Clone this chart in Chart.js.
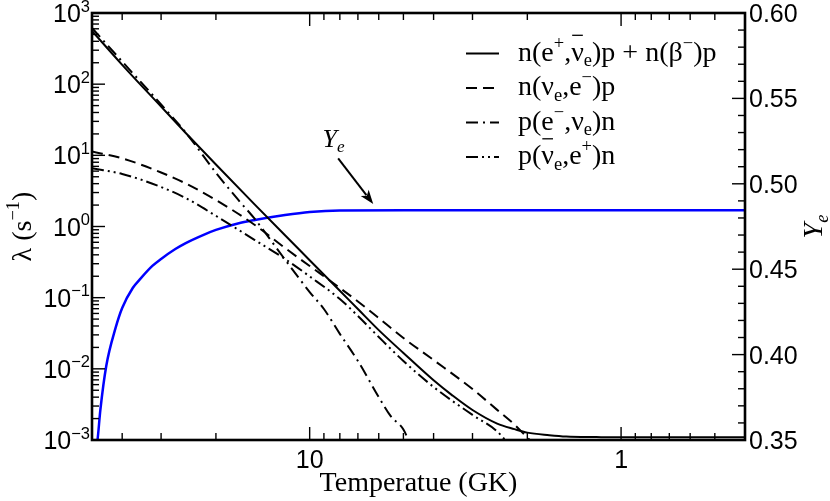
<!DOCTYPE html>
<html>
<head>
<meta charset="utf-8">
<script src="https://cdn.jsdelivr.net/npm/chart.js@4/dist/chart.umd.min.js"></script>
<style>
html,body{margin:0;padding:0;background:#fff;}
#wrap{width:830px;height:501px;position:relative;}
canvas{display:block;}
</style>
</head>
<body>
<div id="wrap"><canvas id="c" width="830" height="501"></canvas></div>
<script>
// ---------- data ----------
// n(e+, anti-nu_e)p + n(beta-)p  (solid)
const solidT    = [50, 40, 30, 25, 20, 15, 12, 10, 8, 7, 6, 5, 4, 3.5, 3, 2.5, 2.2, 2, 1.7, 1.5, 1.2, 1, 0.7, 0.4];
const solidRate = [560, 187, 48.4, 20.6, 7.43, 2.03, 0.752, 0.336, 0.125, 0.0693, 0.035, 0.0167, 0.0069, 0.00431, 0.00264, 0.0017, 0.00142, 0.00127, 0.00117, 0.00112, 0.0011, 0.00109, 0.00109, 0.00109];

// n(nu_e, e-)p  (dashed)
const dashT    = [50, 40, 30, 25, 20, 15, 12, 10, 8, 7, 6, 5, 4, 3, 2.5, 2.2, 2, 1.8];
const dashRate = [11.3, 9.08, 5.74, 4.02, 2.36, 1.05, 0.499, 0.279, 0.137, 0.0884, 0.0518, 0.0271, 0.0133, 0.0052, 0.00265, 0.00165, 0.00108, 0.0007];

// p(e-, nu_e)n  (dash-dot)
const ecT    = [50, 40, 30, 25, 20, 17, 15, 12, 10, 9, 8, 7, 6, 5.5, 5, 4.6];
const ecRate = [615, 208, 51.8, 20.9, 5.7, 2.4, 1.275, 0.343, 0.12, 0.0693, 0.031, 0.0129, 0.004, 0.00218, 0.0014, 0.0006];

// p(anti-nu_e, e+)n  (dash-dot-dot)
const anuT    = [50, 40, 30, 25, 20, 15, 12, 10, 8, 7, 6, 5, 4, 3, 2.5, 2.2];
const anuRate = [6.57, 5.47, 3.59, 2.51, 1.41, 0.645, 0.35, 0.199, 0.0957, 0.0553, 0.028, 0.0129, 0.00556, 0.00225, 0.00132, 0.0007];

// Ye (blue, right axis)
const yeT   = [50, 48, 47, 45, 42, 40, 37, 35, 32, 30, 27, 25, 22, 20, 17, 15, 12, 10, 8, 5, 1, 0.4];
const yeVal = [0.33, 0.35, 0.3676, 0.3933, 0.4156, 0.4273, 0.439, 0.4443, 0.4519, 0.456, 0.4618, 0.4653, 0.47, 0.473, 0.4768, 0.4788, 0.4817, 0.4835, 0.4844, 0.4845, 0.4845, 0.4845];

// ---------- axes / labels ----------
const tempMajorTicks  = [10, 1];
const tempTickLabels  = ['10', '1'];
const lambdaExponents = [-3, -2, -1, 0, 1, 2, 3];
const yeMajorTicks    = [0.35, 0.40, 0.45, 0.50, 0.55, 0.60];
const yeTickLabels    = ['0.35', '0.40', '0.45', '0.50', '0.55', '0.60'];
const xTitle = 'Temperatue (GK)';

const seriesLabels = [
  [{t:'n(e'},{t:'+',s:'sup'},{t:','},{t:'ν',bar:true},{t:'e',s:'sub'},{t:')p + n(β'},{t:'−',s:'sup'},{t:')p'}],
  [{t:'n(ν'},{t:'e',s:'sub'},{t:',e'},{t:'−',s:'sup'},{t:')p'}],
  [{t:'p(e'},{t:'−',s:'sup'},{t:',ν'},{t:'e',s:'sub'},{t:')n'}],
  [{t:'p('},{t:'ν',bar:true},{t:'e',s:'sub'},{t:',e'},{t:'+',s:'sup'},{t:')n'}]
];
const dashes = [[], [11, 6], [12, 5, 2, 5], [12, 4, 2, 4, 2, 4]];

// annotation (data coordinates: temperature, Ye)
const yeNoteText  = {T: 9.1, ye: 0.5217};
const yeArrowFrom = {T: 8.1, ye: 0.5149};
const yeArrowTo   = {T: 6.25, ye: 0.4882};

const SANS  = '"Liberation Sans", Arial, sans-serif';
const SERIF = '"Liberation Serif", "Times New Roman", serif';

function pts(ts, vs){ return ts.map((t,i)=>({x:t, y:vs[i]})); }

function partFont(p, size, family, style){
  const fs = (p.s ? size*0.66 : size);
  return `${style||''} ${fs}px ${family}`;
}
function richWidth(ctx, parts, size, family, style){
  let w = 0;
  for (const p of parts){ ctx.font = partFont(p,size,family,style); w += ctx.measureText(p.t).width; }
  return w;
}
function drawRich(ctx, parts, x, y, size, family, style){
  let cx = x;
  ctx.textAlign = 'left';
  ctx.textBaseline = 'alphabetic';
  for (const p of parts){
    ctx.font = partFont(p,size,family,style);
    let dy = 0;
    if (p.s === 'sup') dy = -size*0.42;
    if (p.s === 'sub') dy = size*0.2;
    ctx.fillText(p.t, cx, y+dy);
    const w = ctx.measureText(p.t).width;
    if (p.bar){
      ctx.save(); ctx.lineWidth = 1.3; ctx.beginPath();
      ctx.moveTo(cx+1, y - size*0.9); ctx.lineTo(cx+w-1, y - size*0.9); ctx.stroke(); ctx.restore();
    }
    cx += w;
  }
  return cx - x;
}

const decor = {
  id: 'decor',
  afterDraw(chart){
    const {ctx, chartArea:a} = chart;
    const xs = chart.scales.x, ys = chart.scales.y, ye = chart.scales.ye;
    ctx.save();
    ctx.strokeStyle = '#000'; ctx.fillStyle = '#000';
    // frame
    ctx.lineWidth = 2.6;
    ctx.strokeRect(a.left, a.top, a.right - a.left, a.bottom - a.top);
    ctx.lineWidth = 1.4;
    const seg = (x1,y1,x2,y2)=>{ ctx.beginPath(); ctx.moveTo(x1,y1); ctx.lineTo(x2,y2); ctx.stroke(); };
    const MAJ = 13, MIN = 7;
    // x ticks (top & bottom)
    for (let e = -1; e <= 1; e++){
      for (let m = 1; m <= 9; m++){
        const v = m * Math.pow(10, e);
        if (v < 0.4 - 1e-9 || v > 50 + 1e-9) continue;
        const px = xs.getPixelForValue(v);
        if (px <= a.left + 1 || px >= a.right - 1) continue;
        const len = (m === 1) ? MAJ : MIN;
        seg(px, a.bottom, px, a.bottom - len);
        seg(px, a.top, px, a.top + len);
      }
    }
    // left y ticks
    for (let e = -3; e <= 3; e++){
      for (let m = 1; m <= 9; m++){
        const v = m * Math.pow(10, e);
        if (v > 1000 + 1e-9) continue;
        const py = ys.getPixelForValue(v);
        const len = (m === 1) ? MAJ : MIN;
        if (py < a.top + 1 || py > a.bottom - 1) continue;
        seg(a.left, py, a.left + len, py);
      }
    }
    // right Ye ticks
    for (let k = 36; k < 60; k++){
      const v = k / 100;
      const py = ye.getPixelForValue(v);
      const len = (k % 5 === 0) ? MAJ : MIN;
      seg(a.right, py, a.right - len, py);
    }

    // tick labels
    ctx.textBaseline = 'alphabetic';
    // bottom
    ctx.font = `25px ${SANS}`; ctx.textAlign = 'center';
    tempMajorTicks.forEach((v,i)=>{ ctx.fillText(tempTickLabels[i], xs.getPixelForValue(v), a.bottom + 28); });
    // left  10^n
    lambdaExponents.forEach(e=>{
      const py = ys.getPixelForValue(Math.pow(10, e));
      const parts = [{t:'10'},{t:(e<0?'−':'')+Math.abs(e), s:'sup'}];
      const w = richWidth(ctx, parts, 25, SANS);
      drawRich(ctx, parts, a.left - 2 - w, py + 9, 25, SANS);
    });
    // right
    ctx.font = `25px ${SANS}`; ctx.textAlign = 'left';
    yeMajorTicks.forEach((v,i)=>{ ctx.fillText(yeTickLabels[i], a.right + 4, ye.getPixelForValue(v) + 9); });

    // axis titles
    ctx.font = `28px ${SERIF}`; ctx.textAlign = 'center';
    ctx.fillText(xTitle, (a.left + a.right)/2, a.bottom + 51);
    // left title
    ctx.save();
    ctx.translate(31, (a.top + a.bottom)/2);
    ctx.rotate(-Math.PI/2);
    const lt = [{t:'λ (s'},{t:'−1',s:'sup'},{t:')'}];
    const lw = richWidth(ctx, lt, 28, SERIF);
    drawRich(ctx, lt, -lw/2, 0, 28, SERIF);
    ctx.restore();
    // right title
    ctx.save();
    ctx.translate(822, (a.top + a.bottom)/2);
    ctx.rotate(-Math.PI/2);
    const rt = [{t:'Y'},{t:'e',s:'sub'}];
    const rw = richWidth(ctx, rt, 28, SERIF, 'italic');
    drawRich(ctx, rt, -rw/2, 0, 28, SERIF, 'italic');
    ctx.restore();

    // legend
    const rowY = [53.5, 88, 122.5, 157];
    seriesLabels.forEach((parts, i)=>{
      ctx.save();
      ctx.lineWidth = 2; ctx.setLineDash(dashes[i]);
      seg(466, rowY[i], 499, rowY[i]);
      ctx.restore();
      drawRich(ctx, parts, 518, rowY[i] + 7, 28, SERIF);
    });

    // Ye annotation
    const tx = xs.getPixelForValue(yeNoteText.T), ty = ye.getPixelForValue(yeNoteText.ye);
    drawRich(ctx, [{t:'Y'},{t:'e',s:'sub'}], tx, ty, 26, SERIF, 'italic');
    const x1 = xs.getPixelForValue(yeArrowFrom.T), y1 = ye.getPixelForValue(yeArrowFrom.ye);
    const x2 = xs.getPixelForValue(yeArrowTo.T),   y2 = ye.getPixelForValue(yeArrowTo.ye);
    const ang = Math.atan2(y2 - y1, x2 - x1);
    const hl = 14, hw = 5;
    ctx.lineWidth = 2;
    seg(x1, y1, x2 - Math.cos(ang)*hl*0.8, y2 - Math.sin(ang)*hl*0.8);
    ctx.beginPath();
    ctx.moveTo(x2, y2);
    ctx.lineTo(x2 - Math.cos(ang)*hl + Math.sin(ang)*hw, y2 - Math.sin(ang)*hl - Math.cos(ang)*hw);
    ctx.lineTo(x2 - Math.cos(ang)*hl*0.75, y2 - Math.sin(ang)*hl*0.75);
    ctx.lineTo(x2 - Math.cos(ang)*hl - Math.sin(ang)*hw, y2 - Math.sin(ang)*hl + Math.cos(ang)*hw);
    ctx.closePath(); ctx.fill();
    ctx.restore();
  }
};

const common = {pointRadius:0, fill:false, cubicInterpolationMode:'monotone', borderCapStyle:'butt'};
new Chart(document.getElementById('c'), {
  type: 'line',
  data: {
    datasets: [
      Object.assign({label:'n(e+,ν̄e)p + n(β−)p', data: pts(solidT, solidRate), borderColor:'#000', borderWidth:2, borderDash:dashes[0], yAxisID:'y'}, common),
      Object.assign({label:'n(νe,e−)p', data: pts(dashT, dashRate), borderColor:'#000', borderWidth:2, borderDash:dashes[1], yAxisID:'y'}, common),
      Object.assign({label:'p(e−,νe)n', data: pts(ecT, ecRate), borderColor:'#000', borderWidth:2, borderDash:dashes[2], yAxisID:'y'}, common),
      Object.assign({label:'p(ν̄e,e+)n', data: pts(anuT, anuRate), borderColor:'#000', borderWidth:2, borderDash:dashes[3], yAxisID:'y'}, common),
      Object.assign({label:'Ye', data: pts(yeT, yeVal), borderColor:'#0000ff', borderWidth:2.5, yAxisID:'ye'}, common)
    ]
  },
  options: {
    responsive: false,
    animation: false,
    devicePixelRatio: 1,
    layout: {padding: {left: 92, right: 85, top: 13, bottom: 61}},
    plugins: {legend: {display: false}, tooltip: {enabled: false}},
    scales: {
      x:  {type: 'logarithmic', reverse: true, min: 0.4, max: 50, display: false},
      y:  {type: 'logarithmic', min: 1e-3, max: 1e3, display: false},
      ye: {type: 'linear', min: 0.35, max: 0.60, display: false, position: 'right'}
    }
  },
  plugins: [decor]
});
</script>
</body>
</html>
